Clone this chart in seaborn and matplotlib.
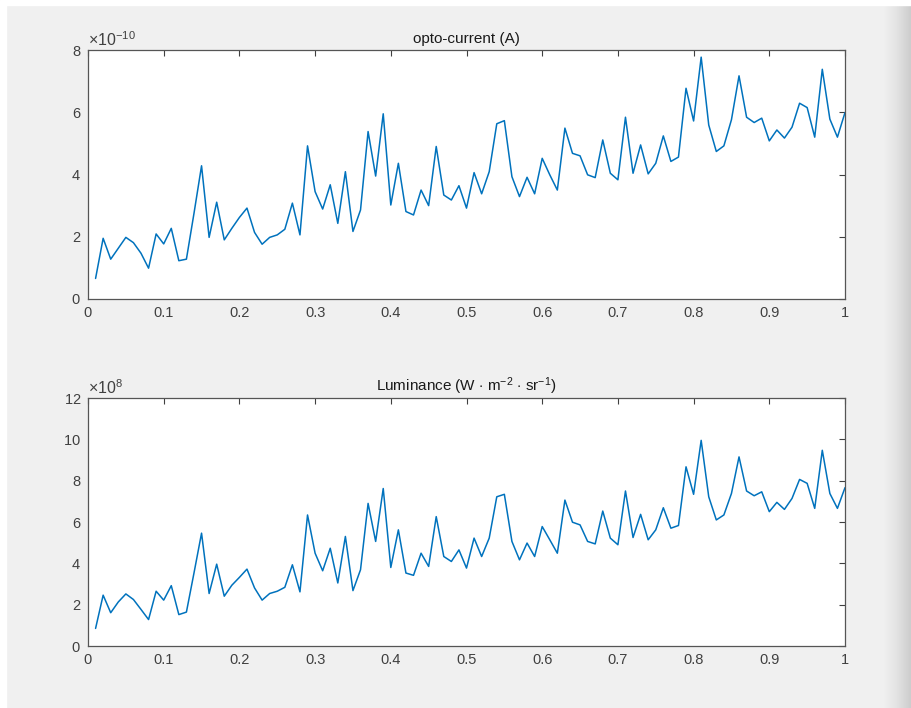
import numpy as np
import pandas as pd
import matplotlib
matplotlib.use("Agg")
import matplotlib.pyplot as plt
import matplotlib.ticker as mticker
import seaborn as sns

# sample positions
t = [round(0.01 * i, 2) for i in range(1, 101)]

# opto-current, in units of 1e-10 A
current = [0.66, 1.95, 1.28, 1.63, 1.98, 1.81, 1.47, 0.99, 2.09, 1.77,
           2.27, 1.23, 1.28, 2.75, 4.28, 1.98, 3.11, 1.90, 2.27, 2.62,
           2.92, 2.14, 1.76, 1.98, 2.06, 2.24, 3.08, 2.06, 4.92, 3.45,
           2.89, 3.67, 2.43, 4.09, 2.17, 2.86, 5.38, 3.95, 5.95, 3.02,
           4.36, 2.81, 2.70, 3.50, 3.00, 4.90, 3.34, 3.18, 3.64, 2.92,
           4.06, 3.38, 4.09, 5.63, 5.73, 3.93, 3.29, 3.91, 3.38, 4.52,
           3.99, 3.50, 5.49, 4.68, 4.60, 3.99, 3.90, 5.11, 4.04, 3.83,
           5.84, 4.04, 4.95, 4.02, 4.36, 5.24, 4.42, 4.56, 6.77, 5.72,
           7.77, 5.59, 4.74, 4.92, 5.76, 7.17, 5.84, 5.67, 5.81, 5.08,
           5.43, 5.17, 5.52, 6.29, 6.15, 5.20, 7.38, 5.78, 5.20, 5.99]

# luminance, in units of 1e8 W m^-2 sr^-1
luminance = [0.85, 2.46, 1.61, 2.13, 2.52, 2.25, 1.77, 1.28, 2.65, 2.22,
             2.92, 1.52, 1.64, 3.53, 5.46, 2.54, 3.96, 2.41, 2.94, 3.32,
             3.72, 2.81, 2.22, 2.54, 2.65, 2.84, 3.93, 2.62, 6.34, 4.49,
             3.64, 4.73, 3.05, 5.30, 2.68, 3.69, 6.90, 5.06, 7.62, 3.80,
             5.62, 3.53, 3.42, 4.49, 3.85, 6.26, 4.33, 4.09, 4.65, 3.77,
             5.22, 4.33, 5.22, 7.22, 7.34, 5.06, 4.17, 4.98, 4.33, 5.78,
             5.14, 4.49, 7.06, 5.99, 5.86, 5.06, 4.94, 6.53, 5.22, 4.90,
             7.50, 5.25, 6.37, 5.14, 5.62, 6.69, 5.70, 5.83, 8.67, 7.34,
             9.95, 7.22, 6.10, 6.34, 7.38, 9.15, 7.50, 7.27, 7.46, 6.50,
             6.95, 6.61, 7.14, 8.06, 7.87, 6.66, 9.47, 7.38, 6.66, 7.66]

sns.set_style("white")
plt.rcParams['font.family'] = ['Liberation Sans', 'DejaVu Sans']
plt.rcParams['mathtext.fontset'] = 'custom'
plt.rcParams['mathtext.rm'] = 'Liberation Sans'
plt.rcParams['mathtext.it'] = 'Liberation Sans:italic'
plt.rcParams['mathtext.bf'] = 'Liberation Sans:bold'

df = pd.DataFrame({
    't': t,
    'current': np.array(current) * 1e-10,
    'luminance': np.array(luminance) * 1e8,
})

fig = plt.figure(figsize=(9.11, 7.08), dpi=100, facecolor='#f0f0f0')
W, H = 911, 708

# white frame strip along top and left, shadow on the right
fig.patches.append(plt.Rectangle((0, 1 - 5 / H), 1, 5 / H, transform=fig.transFigure,
                                 color='white', zorder=0))
fig.patches.append(plt.Rectangle((0, 0), 6 / W, 1, transform=fig.transFigure,
                                 color='white', zorder=0))
shadow = fig.add_axes([884 / W, 0, 27 / W, 1 - 5 / H])
grad = np.linspace(0, 1, 50).reshape(1, -1)
shadow.imshow(grad, aspect='auto', cmap=matplotlib.colors.LinearSegmentedColormap.from_list(
    'sh', ['#f0f0f0', '#e2e2e2', '#cdcdcd']))
shadow.axis('off')


def panel(rect, col, ymax, ystep, power, title):
    ax = fig.add_axes(rect)
    ax.set_facecolor('white')
    sns.lineplot(data=df, x='t', y=col, ax=ax, color='#0072BD', linewidth=1.1)
    ax.set_xlim(0, 1)
    ax.set_ylim(0, ymax)
    ax.set_xticks(np.arange(0, 1.01, 0.1))
    ax.set_xticklabels(['0', '0.1', '0.2', '0.3', '0.4', '0.5', '0.6', '0.7', '0.8', '0.9', '1'])
    ax.set_yticks(np.arange(0, ymax * 1.0001, ystep))
    fmt = mticker.ScalarFormatter(useMathText=True)
    fmt.set_powerlimits((power, power))
    ax.yaxis.set_major_formatter(fmt)
    ax.yaxis.get_offset_text().set_fontsize(11.5)
    ax.yaxis.get_offset_text().set_color('#4a4a4a')
    ax.set_xlabel('')
    ax.set_ylabel('')
    ax.set_title(title, fontsize=11, color='#1a1a1a', pad=5)
    ax.tick_params(direction='in', length=4, width=0.8, top=True, right=True,
                   labelsize=10.5, labelcolor='#404040', color='#404040', pad=5)
    for s in ax.spines.values():
        s.set_color('#555555')
        s.set_linewidth(0.9)
    return ax


ax1 = panel([88 / W, 1 - 299 / H, 757 / W, 249 / H], 'current', 8e-10, 2e-10, -10,
            'opto-current (A)')
ax2 = panel([88 / W, 1 - 646 / H, 757 / W, 248 / H], 'luminance', 12e8, 2e8, 8,
            r'Luminance (W $\cdot$ m$^{-2}$ $\cdot$ sr$^{-1}$)')

fig.savefig('out.png', dpi=100, facecolor=fig.get_facecolor())
